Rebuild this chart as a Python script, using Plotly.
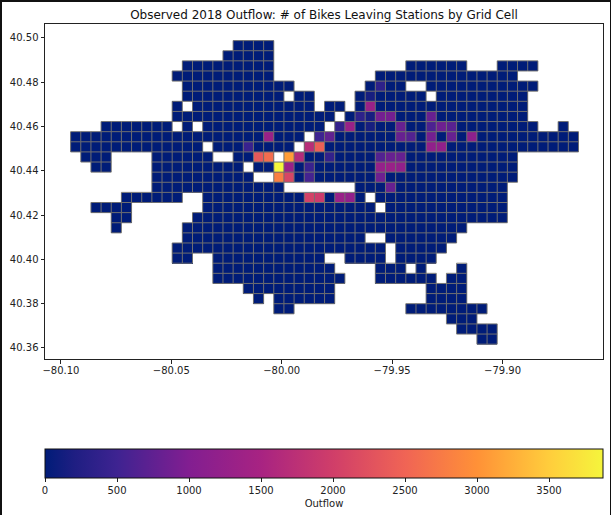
import plotly.graph_objects as go

# Occupied column spans (first, last) of every grid row, north to south
row_spans = [
    [(16, 19)],
    [(15, 19)],
    [(11, 19), (33, 38), (42, 45)],
    [(10, 19), (30, 43)],
    [(11, 21), (29, 32), (35, 45)],
    [(11, 20), (22, 23), (28, 34), (36, 44)],
    [(10, 10), (12, 23), (25, 26), (28, 44)],
    [(10, 25), (27, 44)],
    [(3, 9), (11, 11), (13, 24), (26, 45), (48, 48)],
    [(0, 22), (24, 49)],
    [(0, 12), (14, 21), (23, 49)],
    [(1, 3), (8, 13), (16, 19), (21, 43)],
    [(2, 3), (8, 16), (18, 43)],
    [(8, 17), (20, 43)],
    [(8, 20), (28, 42)],
    [(5, 10), (13, 28), (30, 42)],
    [(2, 5), (13, 29), (31, 42)],
    [(4, 5), (12, 42)],
    [(4, 4), (11, 38)],
    [(11, 28), (31, 37)],
    [(10, 30), (32, 36)],
    [(10, 11), (14, 24), (27, 30), (32, 35)],
    [(14, 25), (30, 32), (34, 34), (38, 38)],
    [(14, 26), (30, 35), (37, 38)],
    [(17, 25), (35, 38)],
    [(18, 18), (20, 25), (35, 38)],
    [(20, 21), (33, 40)],
    [(37, 39)],
    [(38, 41)],
    [(40, 41)],
]

# Cells with an outflow clearly above the near-zero background
hot_row = [4, 5, 6, 7, 7, 7, 7, 7, 8, 8, 8, 8, 8, 8, 8,
           9, 9, 9, 9, 9, 9, 9, 9, 10, 10, 10, 10, 10,
           11, 11, 11, 11, 11, 11, 11, 11, 12, 12, 12, 12, 12, 12,
           13, 13, 13, 13, 14, 15, 15, 15, 15]
hot_col = [30, 29, 29, 28, 29, 30, 31, 35, 26, 27, 29, 32, 35, 36, 37,
           19, 24, 25, 32, 33, 35, 37, 39, 17, 23, 24, 35, 36,
           18, 19, 21, 22, 25, 30, 31, 32, 20, 21, 23, 30, 31, 32,
           20, 21, 23, 30, 31, 23, 24, 26, 27]
hot_value = [350, 150, 1300, 350, 150, 900, 900, 800, 400, 1300, 150, 800, 600, 850, 700,
             1300, 500, 750, 800, 650, 900, 800, 1150, 450, 1700, 2450, 1200, 1200,
             2350, 2600, 3100, 1650, 400, 650, 800, 800, 3875, 1300, 450, 1250, 1300, 1200,
             2800, 2100, 550, 850, 800, 2050, 1950, 1300, 1200]

background_outflow = 0
outflow_max = 3875

x_ticks = [-80.10, -80.05, -80.00, -79.95, -79.90]
y_ticks = [40.36, 40.38, 40.40, 40.42, 40.44, 40.46, 40.48, 40.50]
bar_ticks = [0, 500, 1000, 1500, 2000, 2500, 3000, 3500]

color_stops = [
    (0, "rgb(0,28,120)"), (200, "rgb(30,30,130)"), (500, "rgb(62,35,145)"),
    (1000, "rgb(130,30,145)"), (1500, "rgb(168,35,130)"), (2000, "rgb(208,62,105)"),
    (2500, "rgb(240,100,85)"), (3000, "rgb(255,145,55)"), (3500, "rgb(255,205,60)"),
    (3875, "rgb(245,245,60)"),
]

# Grid geometry and page layout
W, H = 611, 515
LON0, DLON = -80.0956, 0.0046
LAT0, DLAT = 40.4988, 0.00457
N_ROWS, N_COLS = len(row_spans), 50

z = [[None] * N_COLS for _ in range(N_ROWS)]
for r, spans in enumerate(row_spans):
    for a, b in spans:
        for c in range(a, b + 1):
            z[r][c] = background_outflow
for r, c, v in zip(hot_row, hot_col, hot_value):
    z[r][c] = v

lon_c = [LON0 + (c + 0.5) * DLON for c in range(N_COLS)]
lat_c = [LAT0 - (r + 0.5) * DLAT for r in range(N_ROWS)]

edges = set()
for r in range(N_ROWS):
    for c in range(N_COLS):
        if z[r][c] is not None:
            edges |= {(c, r, c + 1, r), (c, r + 1, c + 1, r + 1), (c, r, c, r + 1), (c + 1, r, c + 1, r + 1)}
ex, ey = [], []
for c0, r0, c1, r1 in sorted(edges):
    ex += [LON0 + c0 * DLON, LON0 + c1 * DLON, None]
    ey += [LAT0 - r0 * DLAT, LAT0 - r1 * DLAT, None]

fig = go.Figure()
fig.add_trace(go.Heatmap(
    x=lon_c, y=lat_c, z=z, zmin=0, zmax=outflow_max,
    colorscale=[[v / outflow_max, col] for v, col in color_stops],
    hoverongaps=False,
    colorbar=dict(
        orientation="h", lenmode="pixels", len=558, thicknessmode="pixels", thickness=29,
        x=45 / W, xanchor="left", y=(H - 449) / H, yanchor="top", xpad=0, ypad=0,
        outlinecolor="#111111", outlinewidth=1,
        tickmode="array", tickvals=bar_ticks, ticks="outside", ticklen=3.5, tickwidth=1,
        tickcolor="#222222", tickfont=dict(family="DejaVu Sans", size=10, color="#222222"),
        title=dict(text="Outflow", side="bottom", font=dict(family="DejaVu Sans", size=10, color="#222222")),
    ),
))
fig.add_trace(go.Scatter(x=ex, y=ey, mode="lines", line=dict(color="#707070", width=1),
                         hoverinfo="skip", showlegend=False))

axis_style = dict(showgrid=False, zeroline=False, mirror=True, showline=True, linecolor="#222222", linewidth=1,
                  ticks="outside", ticklen=3.5, tickwidth=1, tickcolor="#222222", tickformat=".2f",
                  tickfont=dict(family="DejaVu Sans", size=10, color="#222222"))

band = "#111111"
fig.update_layout(
    width=W, height=H, autosize=False, margin=dict(l=0, r=0, t=0, b=0, autoexpand=False),
    paper_bgcolor="white", plot_bgcolor="white", showlegend=False,
    title=dict(text="Observed 2018 Outflow: # of Bikes Leaving Stations by Grid Cell",
               x=324 / W, xanchor="center", xref="paper", y=(H - 15) / H, yanchor="middle", yref="paper",
               font=dict(family="DejaVu Sans", size=12, color="#111111")),
    xaxis=dict(range=[-80.1072, -79.8545], domain=[45 / W, 603 / W], tickvals=x_ticks, anchor="y",
               ticklabelstandoff=-2, **axis_style),
    yaxis=dict(range=[40.355, 40.5063], domain=[(H - 359) / H, (H - 24) / H], tickvals=y_ticks, anchor="x", **axis_style),
    shapes=[
        dict(type="rect", xref="paper", yref="paper", x0=0, x1=2 / W, y0=0, y1=1, fillcolor=band, line_width=0),
        dict(type="rect", xref="paper", yref="paper", x0=0, x1=1, y0=1 - 2 / H, y1=1, fillcolor=band, line_width=0),
        dict(type="rect", xref="paper", yref="paper", x0=1 - 1 / W, x1=1, y0=0, y1=1, fillcolor=band, line_width=0),
    ],
)

fig.write_html("out.html", config=dict(displayModeBar=False), post_script="document.body.style.margin='0';")
